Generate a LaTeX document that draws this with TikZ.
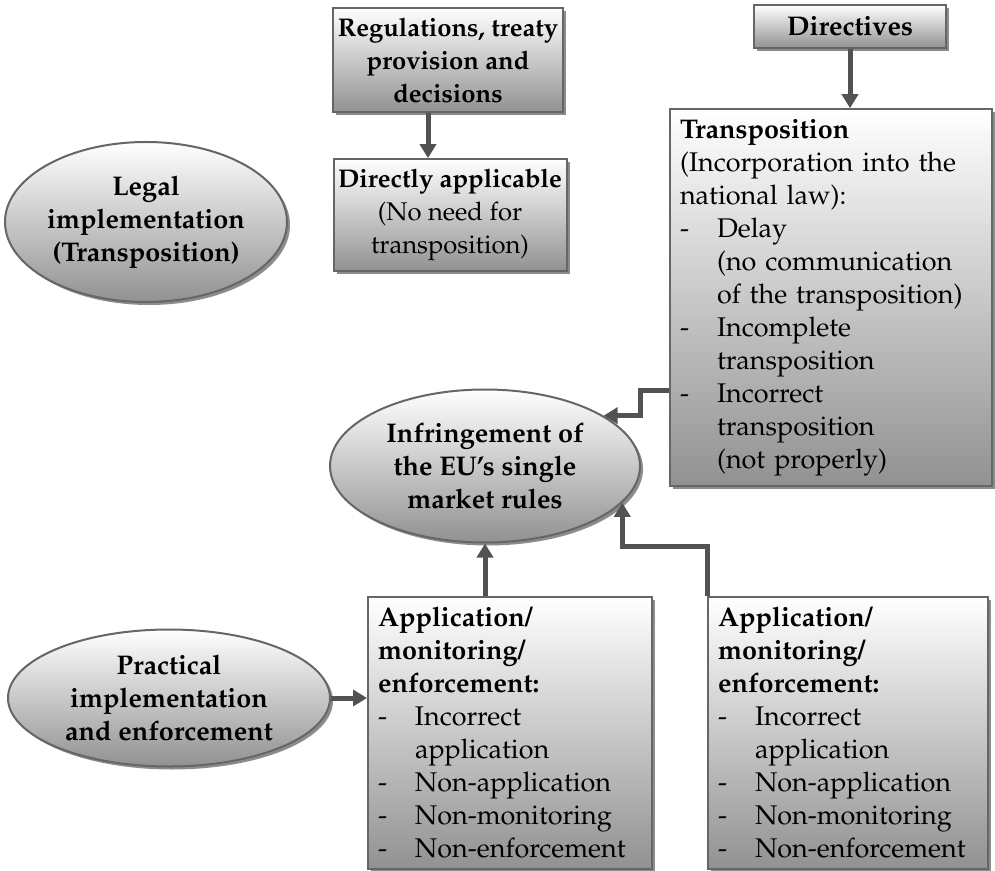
\documentclass[tikz,border=0pt]{standalone}
\usepackage[T1]{fontenc}
\usepackage{mathpazo}
\usepackage{tikz}
\usetikzlibrary{shapes.geometric}
\usetikzlibrary{shadows}
\usetikzlibrary{arrows.meta}
\tikzset{>={Triangle[length=7pt,width=8pt]}}
\newcommand{\dashit}{\makebox[18.5pt][l]{-}}
\newcommand{\indit}{\hspace*{18.5pt}}

\begin{document}
\begin{tikzpicture}[x=0.5pt, y=-0.5pt]
\tikzset{shade box/.style={draw=black!60, line width=1pt, top color=white, bottom color=black!43,
    drop shadow={shadow xshift=1.5pt, shadow yshift=-1.5pt, fill=black!45, opacity=1},
    inner sep=5pt, font=\fontsize{13.5}{16.5}\selectfont}}
\tikzset{shade oval/.style={shade box, ellipse, inner sep=0pt, align=center, font=\fontsize{13.5}{16.5}\selectfont\bfseries}}
\tikzset{narrow box/.style={shade box, inner xsep=2pt, align=center, font=\fontsize{12.8}{16.5}\selectfont}}
\tikzset{flow/.style={->, draw=black!68, line width=2.5pt}}
    \useasboundingbox (0,0) rectangle (995,871);

    \node[narrow box, minimum width=115pt, minimum height=52pt] (reg) at (448,60)
        {\textbf{Regulations, treaty}\\\textbf{provision and}\\\textbf{decisions}};
    \node[shade box, minimum width=96pt, minimum height=21.5pt] (dir) at (850,26.5)
        {\textbf{Directives}};
    \node[narrow box, minimum width=116.5pt, minimum height=53pt] (direct) at (450,215)
        {\textbf{Directly applicable}\\(No need for\\transposition)};
    \node[shade box, minimum width=161pt, minimum height=186.5pt, text width=151pt, align=left] (trans) at (831,297.5)
        {\textbf{Transposition}\\(Incorporation into the\\national law):\\
         \dashit Delay\\\indit(no communication\\\indit of the transposition)\\
         \dashit Incomplete\\\indit transposition\\
         \dashit Incorrect\\\indit transposition\\\indit(not properly)};

    \node[shade oval, minimum width=141pt, minimum height=80pt] (legal) at (146,222)
        {Legal\\implementation\\(Transposition)};
    \node[shade oval, minimum width=155pt, minimum height=76.5pt] (infr) at (485,466)
        {Infringement of\\the EU's single\\market rules};
    \node[shade oval, minimum width=161pt, minimum height=68.5pt] (pract) at (169,698)
        {Practical\\implementation\\and enforcement};
% % % % % % % % % % % % % % % % % % %
    \node[shade box, minimum width=142pt, minimum height=135pt, text width=132pt, align=left] (apply1) at (510,733)
        {\textbf{Application/}\\\textbf{monitoring/}\\\textbf{enforcement:}\\
         \dashit Incorrect\\\indit application\\\dashit Non-application\\
         \dashit Non-monitoring\\\dashit Non-enforcement};
    \node[shade box, minimum width=140pt, minimum height=135pt, text width=130pt, align=left] (apply2) at (848,733)
        {\textbf{Application/}\\\textbf{monitoring/}\\\textbf{enforcement:}\\
         \dashit Incorrect\\\indit application\\\dashit Non-application\\
         \dashit Non-monitoring\\\dashit Non-enforcement};
% % % % % % % % % % % % % % % % % % %
    \coordinate (regx) at (428,0);
    \coordinate (jogA) at (640,390);

    \draw[flow] (reg.south -| regx) -- (direct.north -| regx);
    \draw[flow] (dir.south) -- (dir.south |- trans.north);
    \draw[flow] (trans.west |- jogA) -- (jogA) |- (infr.23);
    \draw[flow] (apply1.north -| infr.south) -- (infr.south);
    \draw[flow] (apply2.north west) -- ++(0,-50) -| (infr.-15);
    \draw[flow] (pract.east) -- (apply1.west |- pract.east);
\end{tikzpicture}
\end{document}
